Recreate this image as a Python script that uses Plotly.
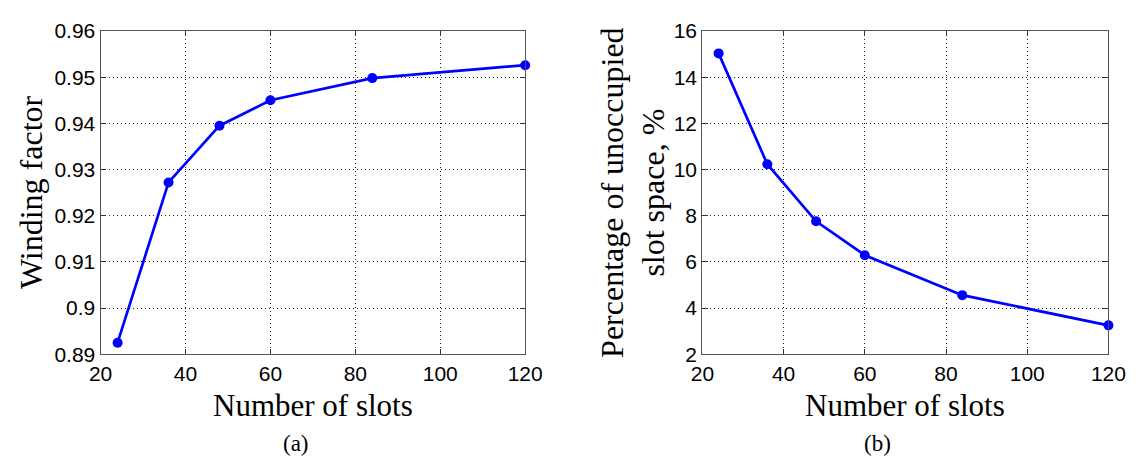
import plotly.graph_objects as go

slots = [24, 36, 48, 60, 84, 120]
winding_factor = [0.8925, 0.9272, 0.9395, 0.9450, 0.9498, 0.9526]
unoccupied_pct = [15.03, 10.23, 7.76, 6.29, 4.56, 3.25]

x_ticks = [20, 40, 60, 80, 100, 120]
y1_ticks = [0.89, 0.90, 0.91, 0.92, 0.93, 0.94, 0.95, 0.96]
y1_labels = ["0.89", "0.9", "0.91", "0.92", "0.93", "0.94", "0.95", "0.96"]
y2_ticks = [2, 4, 6, 8, 10, 12, 14, 16]

W, H = 1143, 466
blue = "#0000FF"
tickfont = dict(family="Liberation Sans, Arial, sans-serif", size=21, color="black")
serif = "Liberation Serif, Times New Roman, serif"

fig = go.Figure()
fig.add_trace(go.Scatter(x=slots, y=winding_factor, mode="lines+markers",
                         line=dict(color=blue, width=2.7),
                         marker=dict(color=blue, size=10),
                         xaxis="x", yaxis="y", showlegend=False, cliponaxis=False))
fig.add_trace(go.Scatter(x=slots, y=unoccupied_pct, mode="lines+markers",
                         line=dict(color=blue, width=2.7),
                         marker=dict(color=blue, size=10),
                         xaxis="x2", yaxis="y2", showlegend=False, cliponaxis=False))

ydom = [1 - 360 / H, 1 - 20 / H]
common = dict(showline=True, linecolor="#555555", linewidth=1.3, mirror="ticks",
              ticks="inside", ticklen=5, tickcolor="#333333",
              showgrid=True, gridcolor="#222222", griddash="1px,3px", gridwidth=1,
              zeroline=False, tickfont=tickfont)

fig.update_layout(
    width=W, height=H,
    margin=dict(l=0, r=0, t=0, b=0),
    paper_bgcolor="white", plot_bgcolor="white",
    xaxis=dict(domain=[91 / W, 527 / W], range=[20, 120], tickvals=x_ticks,
               anchor="y", **common),
    yaxis=dict(domain=ydom, range=[0.89, 0.96], tickvals=y1_ticks, ticktext=y1_labels,
               anchor="x", **common),
    xaxis2=dict(domain=[709 / W, 1126 / W], range=[20, 120], tickvals=x_ticks,
                anchor="y2", **common),
    yaxis2=dict(domain=ydom, range=[2, 16], tickvals=y2_ticks,
                anchor="x2", **common),
)

ann = []
ann.append(dict(text="Winding factor", x=19 / W, y=1 - 190 / H, xref="paper", yref="paper",
                textangle=-90, showarrow=False, font=dict(family=serif, size=32, color="black"),
                xanchor="center", yanchor="middle"))
ann.append(dict(text="Percentage of unoccupied<br>slot space, %", x=637 / W, y=1 - 190 / H,
                xref="paper", yref="paper", textangle=-90, showarrow=False,
                font=dict(family=serif, size=32, color="black"),
                xanchor="center", yanchor="middle"))
for cx in [(91 + 527) / 2, (709 + 1126) / 2]:
    ann.append(dict(text="Number of slots", x=cx / W, y=1 - 414 / H, xref="paper", yref="paper",
                    showarrow=False, font=dict(family=serif, size=31, color="black"),
                    xanchor="center", yanchor="middle"))
for cx, t in [(292, "(a)"), (889, "(b)")]:
    ann.append(dict(text=t, x=cx / W, y=1 - 454 / H, xref="paper", yref="paper",
                    showarrow=False, font=dict(family=serif, size=23, color="black"),
                    xanchor="center", yanchor="middle"))
fig.update_layout(annotations=ann)

fig.write_html("out.html")
